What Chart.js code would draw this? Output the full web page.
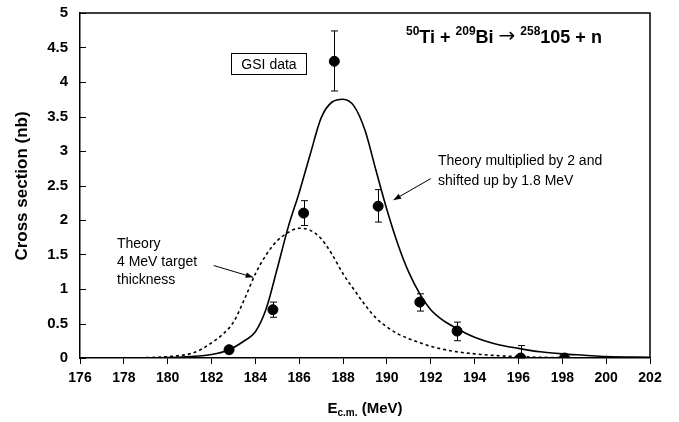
<!DOCTYPE html>
<html>
<head>
<meta charset="utf-8">
<script src="https://cdn.jsdelivr.net/npm/chart.js@4/dist/chart.umd.min.js"></script>
<style>
  html, body { margin: 0; padding: 0; background: #fff; }
  #wrap { width: 679px; height: 422px; position: relative; }
</style>
</head>
<body>
<div id="wrap"><canvas id="chart"></canvas></div>
<script>
// tick labels
const xTicks = [176, 178, 180, 182, 184, 186, 188, 190, 192, 194, 196, 198, 200, 202];
const yTicks = [0, 0.5, 1, 1.5, 2, 2.5, 3, 3.5, 4, 4.5, 5];

// GSI data points with error bars
const gsiE = [182.8, 184.8, 186.2, 187.6, 189.6, 191.5, 193.2, 196.1, 198.1];
const gsiSigma = [0.12, 0.7, 2.1, 4.3, 2.2, 0.81, 0.39, 0.0, 0.0];
const gsiErrLow = [0.07, 0.59, 1.92, 3.87, 1.97, 0.68, 0.25, 0.0, 0.0];
const gsiErrHigh = [0.17, 0.81, 2.28, 4.74, 2.44, 0.93, 0.52, 0.18, 0.0];

// theory multiplied by 2 and shifted up by 1.8 MeV (solid)
const fitE = [176, 178, 180, 181, 182, 182.8, 183.5, 184, 184.5, 185, 185.5, 186, 186.5, 187, 187.5, 188, 188.5, 189, 189.5, 190, 190.5, 191, 191.5, 192, 192.5, 193, 194, 195, 196, 197, 198, 199, 200, 202];
const fitSigma = [0, 0, 0.005, 0.02, 0.05, 0.12, 0.25, 0.38, 0.72, 1.3, 1.9, 2.4, 2.95, 3.48, 3.71, 3.75, 3.65, 3.3, 2.72, 2.15, 1.65, 1.24, 0.93, 0.7, 0.56, 0.46, 0.3, 0.2, 0.14, 0.09, 0.06, 0.04, 0.02, 0.01];

// theory, 4 MeV target thickness (dotted)
const thE = [176, 178, 179, 180, 181, 181.5, 182, 182.5, 183, 183.5, 184, 184.5, 185, 185.5, 186, 186.5, 187, 187.5, 188, 188.5, 189, 189.5, 190, 190.5, 191, 191.5, 192, 193, 194, 195, 196, 197, 198, 202];
const thSigma = [0, 0, 0.005, 0.02, 0.06, 0.12, 0.22, 0.34, 0.52, 0.85, 1.22, 1.5, 1.7, 1.82, 1.88, 1.85, 1.73, 1.5, 1.22, 0.99, 0.77, 0.58, 0.45, 0.35, 0.28, 0.22, 0.17, 0.1, 0.06, 0.035, 0.02, 0.01, 0.005, 0];

const toXY = (xs, ys) => xs.map((x, i) => ({ x: x, y: ys[i] }));

const FONT = '"Liberation Sans", Arial, Helvetica, sans-serif';

const extras = {
  id: 'extras',
  afterDatasetsDraw(chart) {
    const ctx = chart.ctx;
    const xs = chart.scales.x, ys = chart.scales.y;
    const a = chart.chartArea;
    ctx.save();

    // error bars
    ctx.strokeStyle = '#000';
    ctx.lineWidth = 1;
    gsiE.forEach((e, i) => {
      const px = Math.round(xs.getPixelForValue(e)) + 0.5;
      const y1 = ys.getPixelForValue(gsiErrLow[i]);
      const y2 = ys.getPixelForValue(gsiErrHigh[i]);
      if (y1 - y2 < 1) return;
      ctx.beginPath();
      ctx.moveTo(px, y1); ctx.lineTo(px, y2);
      ctx.moveTo(px - 3.5, y1); ctx.lineTo(px + 3.5, y1);
      ctx.moveTo(px - 3.5, y2); ctx.lineTo(px + 3.5, y2);
      ctx.stroke();
    });

    // frame top and right
    ctx.lineWidth = 1.5;
    ctx.beginPath();
    ctx.moveTo(a.left, a.top); ctx.lineTo(a.right, a.top); ctx.lineTo(a.right, a.bottom);
    ctx.stroke();

    // y ticks pointing inward
    ctx.lineWidth = 1;
    ys.ticks.forEach(t => {
      const py = Math.round(ys.getPixelForValue(t.value)) + 0.5;
      ctx.beginPath();
      ctx.moveTo(a.left, py); ctx.lineTo(a.left + 6, py);
      ctx.stroke();
    });

    // axis titles
    ctx.fillStyle = '#000';
    ctx.font = 'bold 17px ' + FONT;
    ctx.textAlign = 'center';
    ctx.textBaseline = 'middle';
    ctx.save();
    ctx.translate(22, 186);
    ctx.rotate(-Math.PI / 2);
    ctx.fillText('Cross section (nb)', 0, 0);
    ctx.restore();

    // x title with subscript
    ctx.textAlign = 'left';
    ctx.textBaseline = 'alphabetic';
    const p1 = 'E', p2 = 'c.m.', p3 = ' (MeV)';
    ctx.font = 'bold 15px ' + FONT;
    const w1 = ctx.measureText(p1).width, w3 = ctx.measureText(p3).width;
    ctx.font = 'bold 10px ' + FONT;
    const w2 = ctx.measureText(p2).width;
    let tx = 365 - (w1 + w2 + w3) / 2;
    const tb = 413;
    ctx.font = 'bold 15px ' + FONT;
    ctx.fillText(p1, tx, tb); tx += w1;
    ctx.font = 'bold 10px ' + FONT;
    ctx.fillText(p2, tx, tb + 3); tx += w2;
    ctx.font = 'bold 15px ' + FONT;
    ctx.fillText(p3, tx, tb);

    // reaction title with superscripts
    const parts = [['50', 'sup'], ['Ti + ', 'main'], ['209', 'sup'], ['Bi ', 'main'], ['\u2192', 'arrow'], [' ', 'main'], ['258', 'sup'], ['105 + n', 'main']];
    const fonts = {
      sup: 'bold 12px ' + FONT,
      main: 'bold 18px ' + FONT,
      arrow: '20px "DejaVu Sans", sans-serif'
    };
    let rx = 406;
    const rb = 43;
    parts.forEach(([s, k]) => {
      ctx.font = fonts[k];
      ctx.fillText(s, rx, k === 'sup' ? rb - 8 : (k === 'arrow' ? rb - 1 : rb));
      rx += ctx.measureText(s).width;
    });

    // GSI data box
    ctx.font = '14px ' + FONT;
    ctx.lineWidth = 1;
    ctx.strokeRect(231.5, 53.5, 75, 21);
    ctx.textAlign = 'center';
    ctx.fillText('GSI data', 269, 69);

    // annotations
    ctx.textAlign = 'left';
    ctx.fillText('Theory multiplied by 2 and', 438, 165);
    ctx.fillText('shifted up by 1.8 MeV', 438, 185);
    ctx.fillText('Theory', 117, 248);
    ctx.fillText('4 MeV target', 117, 266);
    ctx.fillText('thickness', 117, 284);

    // arrows, in data coordinates
    const arrow = (x0, y0, x1, y1) => {
      const ax = xs.getPixelForValue(x0), ay = ys.getPixelForValue(y0);
      const bx = xs.getPixelForValue(x1), by = ys.getPixelForValue(y1);
      const ang = Math.atan2(by - ay, bx - ax);
      ctx.beginPath();
      ctx.moveTo(ax, ay); ctx.lineTo(bx, by);
      ctx.stroke();
      ctx.beginPath();
      ctx.moveTo(bx, by);
      ctx.lineTo(bx - 8 * Math.cos(ang - 0.35), by - 8 * Math.sin(ang - 0.35));
      ctx.lineTo(bx - 8 * Math.cos(ang + 0.35), by - 8 * Math.sin(ang + 0.35));
      ctx.closePath();
      ctx.fill();
    };
    arrow(192.0, 2.6, 190.3, 2.29);
    arrow(182.1, 1.34, 183.9, 1.17);

    ctx.restore();
  }
};

new Chart(document.getElementById('chart'), {
  type: 'scatter',
  data: {
    datasets: [
      {
        label: 'GSI data',
        data: toXY(gsiE, gsiSigma),
        pointRadius: 5,
        pointBackgroundColor: '#000',
        pointBorderColor: '#000',
        order: 0
      },
      {
        label: 'Theory x2, +1.8 MeV',
        type: 'line',
        data: toXY(fitE, fitSigma),
        borderColor: '#000',
        borderWidth: 1.6,
        pointRadius: 0,
        cubicInterpolationMode: 'monotone',
        fill: false,
        order: 1
      },
      {
        label: 'Theory 4 MeV target',
        type: 'line',
        data: toXY(thE, thSigma),
        borderColor: '#000',
        borderWidth: 1.6,
        borderDash: [3, 3],
        pointRadius: 0,
        cubicInterpolationMode: 'monotone',
        fill: false,
        order: 2
      }
    ]
  },
  options: {
    responsive: true,
    maintainAspectRatio: false,
    animation: false,
    layout: { padding: { top: 12, right: 29, left: 0, bottom: 0 } },
    plugins: {
      legend: { display: false },
      tooltip: { enabled: false }
    },
    scales: {
      x: {
        type: 'linear',
        min: 176,
        max: 202,
        afterBuildTicks: s => { s.ticks = xTicks.map(v => ({ value: v })); },
        afterFit: s => { s.height = 64; },
        grid: { drawOnChartArea: false, color: '#000', tickLength: 6, lineWidth: 1 },
        border: { display: true, color: '#000', width: 1.5 },
        ticks: {
          color: '#000',
          padding: 6,
          maxRotation: 0,
          font: { family: FONT, size: 14, weight: 'bold' }
        }
      },
      y: {
        type: 'linear',
        min: 0,
        max: 5,
        afterBuildTicks: s => { s.ticks = yTicks.map(v => ({ value: v })); },
        afterFit: s => { s.width = 80; },
        grid: { display: false },
        border: { display: true, color: '#000', width: 1.5 },
        ticks: {
          color: '#000',
          padding: 4,
          callback: v => String(v),
          font: { family: FONT, size: 15, weight: 'bold' }
        }
      }
    }
  },
  plugins: [extras]
});
</script>
</body>
</html>
